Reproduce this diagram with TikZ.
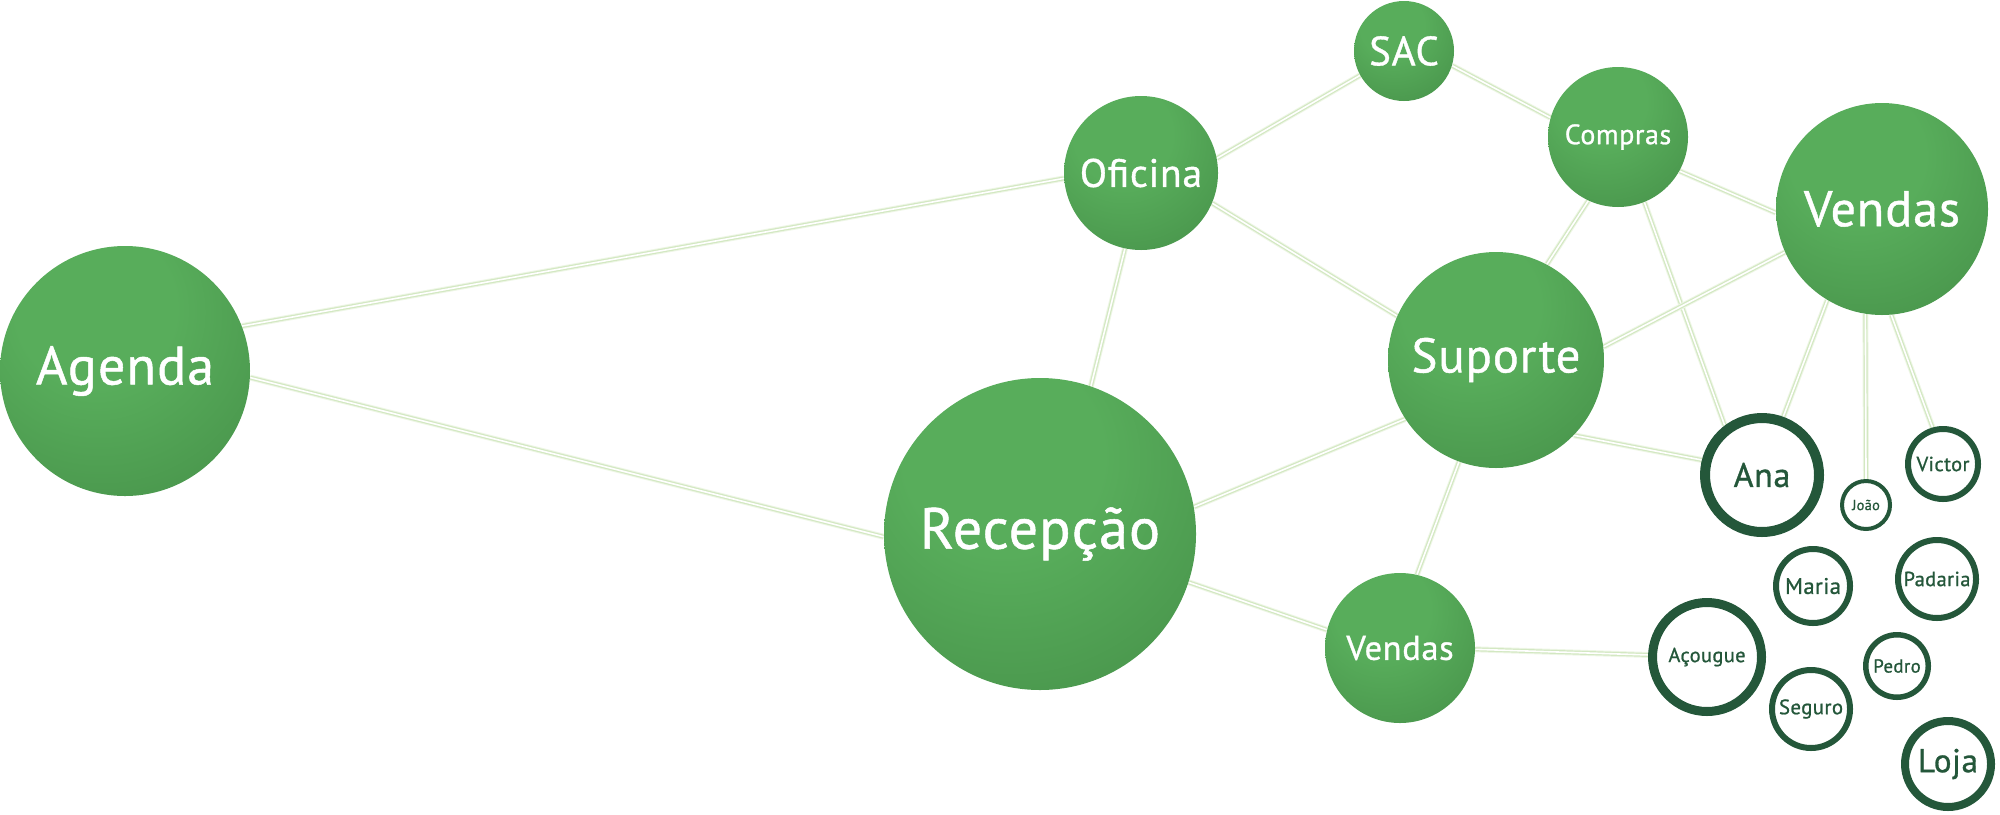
\documentclass[tikz,border=0pt]{standalone}
\usepackage{fontspec}
\setmainfont{PT Sans}[LetterSpace=2, FakeBold=0.9]
\usetikzlibrary{backgrounds}

\definecolor{ballhi}{HTML}{58AD5B}
\definecolor{ballmid}{HTML}{4A974D}
\definecolor{balllo}{HTML}{3B7B3E}
\definecolor{ringgreen}{HTML}{24573A}
\definecolor{linkgreen}{HTML}{D3E8C2}
\definecolor{linkglow}{HTML}{EEF6E6}

\pgfdeclareradialshading{greenball}{\pgfpoint{-7bp}{15bp}}{color(0bp)=(ballhi); color(16bp)=(ballhi); color(38bp)=(ballmid); color(56bp)=(balllo); color(100bp)=(balllo)}

\newcommand{\labelsize}[1]{\fontsize{#1}{#1}\selectfont}

\tikzset{
  hub/.style={circle, inner sep=0pt, shading=greenball, text=white},
  ring/.style={circle, inner sep=0pt, draw=ringgreen, fill=white, text=ringgreen},
  link/.style={draw=linkgreen, line width=0.6pt, double=white, double distance=0.8pt,
    preaction={draw=linkglow, line width=3pt}}
}

\begin{document}
\begin{tikzpicture}[x=0.5pt,y=0.5pt,yscale=-1]
\useasboundingbox (0,0) rectangle (2000,814);

% green departments
\node[hub, minimum size=125pt, font=\labelsize{27}] (agenda) at (125,371) {Agenda};
\node[hub, minimum size=77pt, font=\labelsize{19.8}] (oficina) at (1141,173) {Oficina};
\node[hub, minimum size=50pt, font=\labelsize{20.5}] (sac) at (1404,51) {SAC};
\node[hub, minimum size=70pt, font=\labelsize{14}] (compras) at (1618,137) {Compras};
\node[hub, minimum size=106pt, font=\labelsize{25}] (vendasA) at (1882,209) {Vendas};
\node[hub, minimum size=108pt, font=\labelsize{24.3}] (suporte) at (1496,360) {Suporte};
\node[hub, minimum size=156pt, font=\labelsize{29}] (recepcao) at (1040,534) {Recepção};
\node[hub, minimum size=75pt, font=\labelsize{17.2}] (vendasB) at (1400,648) {Vendas};

% white people and shops
\node[ring, minimum size=57pt, line width=5pt, font=\labelsize{17}] (ana) at (1762,475) {Ana};
\node[ring, minimum size=24pt, line width=2pt, font=\labelsize{7.2}] (joao) at (1866,505) {João};
\node[ring, minimum size=35pt, line width=3pt, font=\labelsize{10.2}] (victor) at (1943,464) {Victor};
\node[ring, minimum size=37pt, line width=3pt, font=\labelsize{11.3}] (maria) at (1813,586) {Maria};
\node[ring, minimum size=39pt, line width=3pt, font=\labelsize{10.2}] (padaria) at (1937,579) {Padaria};
\node[ring, minimum size=54.5pt, line width=4.5pt, font=\labelsize{10.2}] (acougue) at (1707,657) {Açougue};
\node[ring, minimum size=31.25pt, line width=2.75pt, font=\labelsize{9.4}] (pedro) at (1897,666) {Pedro};
\node[ring, minimum size=39pt, line width=3pt, font=\labelsize{10.4}] (seguro) at (1811,709) {Seguro};
\node[ring, minimum size=43pt, line width=4pt, font=\labelsize{16.5}] (loja) at (1948,764) {Loja};

% links
\begin{scope}[on background layer]
\draw[link] (agenda.21) -- (oficina.184);
\draw[link] (agenda.-3) -- (recepcao.181);
\draw[link] (oficina.11) -- (sac.209);
\draw[link] (oficina.-23) -- (suporte.156);
\draw[link] (oficina.-102) -- (recepcao.71);
\draw[link] (sac.-17) -- (compras.164);
\draw[link] (compras.-29) -- (vendasA.182);
\draw[link] (compras.-115) -- (suporte.62);
\draw[link] (compras.-68) -- (ana.127);
\draw[link] (vendasA.204) -- (suporte.7);
\draw[link] (vendasA.239) -- (ana.70);
\draw[link] (vendasA.261) -- (joao.90);
\draw[link] (vendasA.275) -- (victor.106);
\draw[link] (suporte.-44) -- (ana.166);
\draw[link] (suporte.213) -- (recepcao.10);
\draw[link] (suporte.250) -- (vendasB.77);
\draw[link] (recepcao.-18) -- (vendasB.166);
\draw[link] (vendasB.-1) -- (acougue.178);
\end{scope}

\end{tikzpicture}
\end{document}
